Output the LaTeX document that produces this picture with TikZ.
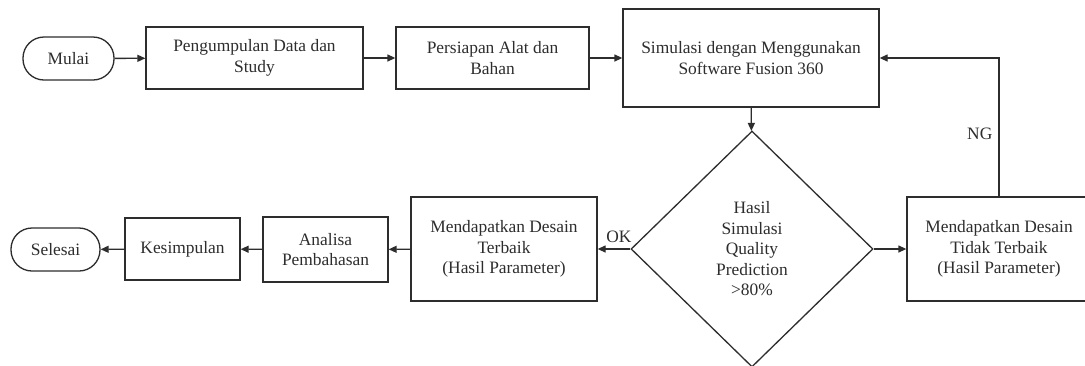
\documentclass[tikz,border=0pt]{standalone}
\usepackage{fontspec}
\setmainfont{Liberation Serif}
\usetikzlibrary{arrows.meta,shapes.geometric}
\definecolor{ink}{RGB}{45,45,45}
\begin{document}
\begin{tikzpicture}[x=1pt,y=-1pt,
  every node/.style={font=\fontsize{17.4}{20.5}\selectfont, text=ink, align=center, inner sep=0pt},
  box/.style={draw=ink, line width=1.3pt, rectangle, minimum width=#1},
  term/.style={draw=ink, line width=1.3pt, rectangle, rounded corners=21pt, minimum width=#1, minimum height=43},
  decis/.style={draw=ink, line width=1.3pt, diamond, minimum width=242, minimum height=236},
  conn/.style={draw=ink, line width=1.3pt, -{Triangle[length=8pt,width=7pt]}},
  lbl/.style={font=\fontsize{17.4}{20.5}\selectfont}
]
\useasboundingbox (0,0) rectangle (1085,365);
\clip (0,0) rectangle (1085,365);
\fill[white] (0,0) rectangle (1085,365);

\node[term=91] (mulai) at (68.5,58.5) {Mulai};
\node[box=217, minimum height=62] (peng) at (254.5,58) {Pengumpulan Data dan\\Study};
\node[box=193, minimum height=62] (pers) at (492.5,58) {Persiapan Alat dan\\Bahan};
\node[box=256, minimum height=98] (sim) at (751,58) {Simulasi dengan Menggunakan\\Software Fusion 360};
\node[decis] (dec) at (752,249) {Hasil\\Simulasi\\Quality\\Prediction\\>80\%};
\node[box=184, minimum height=104] (tidak) at (999,249) {Mendapatkan Desain\\Tidak Terbaik\\(Hasil Parameter)};
\node[box=186, minimum height=104] (terbaik) at (504,249) {Mendapatkan Desain\\Terbaik\\(Hasil Parameter)};
\node[box=125, minimum height=65] (anal) at (325.5,249.5) {Analisa\\Pembahasan};
\node[box=115, minimum height=62] (kes) at (182.5,249) {Kesimpulan};
\node[term=89] (sel) at (55.5,249.5) {Selesai};

\coordinate (corner) at (tidak.north |- sim.east);

\draw[conn] (mulai) -- (peng);
\draw[conn] (peng) -- (pers);
\draw[conn] (pers) -- (sim);
\draw[conn] (sim) -- (dec);
\draw[conn] (dec.west) -- node[lbl, above=6pt, pos=0.35] (ok) {OK} (terbaik.east);
\draw[conn] (dec.east) -- (tidak.west);
\draw[conn] (tidak.north) -- node[lbl, left=6pt, pos=0.45] (ng) {NG} (corner) -- (sim.east);
\draw[conn] (terbaik) -- (anal);
\draw[conn] (anal) -- (kes);
\draw[conn] (kes) -- (sel);
\end{tikzpicture}
\end{document}
